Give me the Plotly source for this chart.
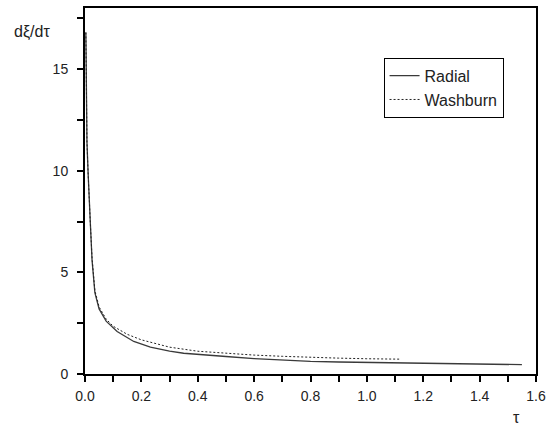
import plotly.graph_objects as go

# Dimensionless time tau and the front velocity d(xi)/d(tau)
radial_tau = [0.003, 0.005, 0.007, 0.011, 0.015, 0.019, 0.025, 0.030, 0.035,
              0.050, 0.075, 0.114, 0.173, 0.232, 0.30, 0.35, 0.40, 0.50, 0.60,
              0.70, 0.80, 0.90, 1.00, 1.13, 1.30, 1.45, 1.55]
radial_v = [16.8, 13.6, 11.4, 9.9, 8.3, 7.4, 5.6, 4.7, 4.0,
            3.2, 2.6, 2.09, 1.60, 1.32, 1.12, 1.02, 0.96, 0.86, 0.76,
            0.68, 0.62, 0.59, 0.57, 0.54, 0.52, 0.50, 0.46]

washburn_tau = [0.003, 0.005, 0.007, 0.011, 0.015, 0.019, 0.025, 0.030, 0.035,
                0.050, 0.075, 0.10, 0.15, 0.20, 0.30, 0.40, 0.50, 0.60,
                0.70, 0.80, 0.90, 1.00, 1.118]
washburn_v = [16.8, 13.6, 11.4, 9.9, 8.3, 7.4, 5.7, 4.8, 4.1,
              3.3, 2.7, 2.35, 1.95, 1.68, 1.32, 1.12, 1.01, 0.93,
              0.87, 0.81, 0.78, 0.75, 0.73]

x_range = [0, 1.6]
y_range = [0, 18]
# Tick positions every 0.1 (x) and 2.5 (y); only the major ones are labelled
x_ticks = [0.0, 0.1, 0.2, 0.3, 0.4, 0.5, 0.6, 0.7, 0.8,
           0.9, 1.0, 1.1, 1.2, 1.3, 1.4, 1.5, 1.6]
x_tick_text = ["0.0", "", "0.2", "", "0.4", "", "0.6", "", "0.8",
               "", "1.0", "", "1.2", "", "1.4", "", "1.6"]
y_ticks = [0, 2.5, 5, 7.5, 10, 12.5, 15, 17.5]
y_tick_text = ["0", "", "5", "", "10", "", "15", ""]

font = "Liberation Sans, Arial, sans-serif"
tick_font = dict(family=font, size=14, color="#222")

fig = go.Figure()
fig.add_trace(go.Scatter(x=radial_tau, y=radial_v, mode="lines", name="Radial",
                         line=dict(color="#3a3a3a", width=1.3)))
fig.add_trace(go.Scatter(x=washburn_tau, y=washburn_v, mode="lines", name="Washburn",
                         line=dict(color="#222222", width=1, dash="2px,2px")))

axis_common = dict(showgrid=False, zeroline=False, showline=True,
                   linecolor="black", linewidth=2, mirror=True,
                   ticks="outside", ticklen=6, tickwidth=1.5, tickcolor="black",
                   tickfont=tick_font)
fig.update_xaxes(range=x_range, tickmode="array", tickvals=x_ticks,
                 ticktext=x_tick_text, ticklabelstandoff=2, **axis_common)
fig.update_yaxes(range=y_range, tickmode="array", tickvals=y_ticks,
                 ticktext=y_tick_text, ticklabelstandoff=6, **axis_common)

fig.add_annotation(text="dξ/dτ", xref="paper", yref="paper", x=-0.162, y=0.935,
                   xanchor="left", yanchor="middle", showarrow=False,
                   font=dict(family=font, size=16, color="#222"))
fig.add_annotation(text="τ", xref="paper", yref="paper", x=0.956, y=-0.12,
                   xanchor="center", yanchor="middle", showarrow=False,
                   font=dict(family=font, size=16, color="#222"))

fig.update_layout(
    width=552, height=427,
    margin=dict(l=85, r=11, t=6, b=53),
    paper_bgcolor="white", plot_bgcolor="white",
    showlegend=True,
    legend=dict(x=0.662, y=0.864, xanchor="left", yanchor="top",
                bordercolor="black", borderwidth=1, bgcolor="white",
                font=dict(family=font, size=16, color="#222"),
                tracegroupgap=0, itemwidth=30),
)

fig.write_html("out.html")
